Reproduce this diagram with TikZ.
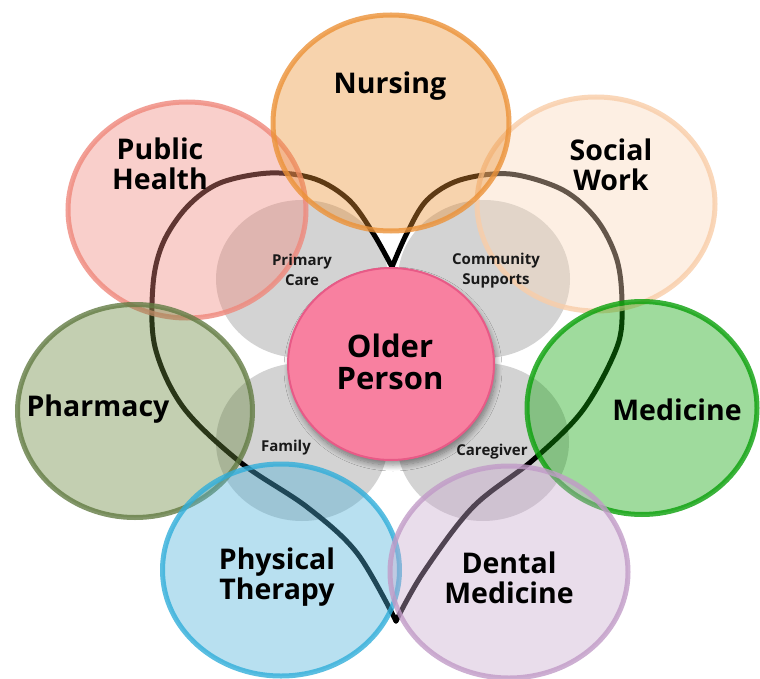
\documentclass[tikz,border=0pt]{standalone}
\usepackage{fontspec}
\setmainfont{Open Sans}
\usetikzlibrary{shapes.geometric,shadows.blur}
\definecolor{nurF}{RGB}{235,145,52}
\definecolor{nurB}{RGB}{236,146,56}
\definecolor{phF}{RGB}{242,137,125}
\definecolor{phB}{RGB}{239,136,124}
\definecolor{swF}{RGB}{250,217,187}
\definecolor{swB}{RGB}{249,205,168}
\definecolor{pmF}{RGB}{105,135,62}
\definecolor{pmB}{RGB}{99,124,68}
\definecolor{mdF}{RGB}{17,165,12}
\definecolor{mdB}{RGB}{11,161,11}
\definecolor{ptF}{RGB}{78,178,218}
\definecolor{ptB}{RGB}{49,174,218}
\definecolor{dmF}{RGB}{202,170,207}
\definecolor{dmB}{RGB}{193,155,199}
\definecolor{opF}{RGB}{248,128,160}
\definecolor{opB}{RGB}{232,90,135}
\definecolor{grayF}{RGB}{211,211,211}
\begin{document}
\begin{tikzpicture}[x=1pt,y=-1pt,
  petal/.style={ellipse,line width=5pt,fill opacity=0.4,draw opacity=0.8,inner sep=0pt},
  helper/.style={ellipse,fill=grayF,draw=none,minimum width=172pt,minimum height=158pt,inner sep=0pt},
  big/.style={font=\fontsize{28.5}{30}\selectfont\bfseries,align=center,text=black},
  center label/.style={font=\fontsize{31}{32}\selectfont\bfseries,align=center,text=black},
  small/.style={font=\fontsize{15}{20}\selectfont\bfseries,align=center,text=black!90},
  heartline/.style={line width=5pt,black,line cap=round,line join=round}]
\useasboundingbox (0,0) rectangle (760,679);
\fill[white] (0,0) rectangle (760,679);
% gray helper circles
\node[helper] (pc) at (302,279) {};
\node[helper] (cs) at (484,279) {};
\node[helper] (fa) at (302,442) {};
\node[helper] (cg) at (483,442) {};
% heart
\coordinate (notch) at (392,267);
\coordinate (tip) at (396,621);
\draw[heartline] plot[smooth,tension=0.55] coordinates {(392,267) (373,233) (349,200) (315,179) (270,173) (220,183) (187,207) (163,243) (153,285) (155,347) (183,407) (240,462) (307,507) (357,553) (396,621)};
\draw[heartline] plot[smooth,tension=0.55] coordinates {(392,267) (407,233) (427,200) (460,180) (510,174) (563,190) (597,220) (617,260) (622,305) (617,347) (583,410) (533,460) (473,507) (423,573) (396,621)};
% petals
\node[petal,fill=phF,draw=phB,minimum width=238pt,minimum height=216pt] (ph) at (187,210) {};
\node[petal,fill=swF,draw=swB,minimum width=238pt,minimum height=214pt] (sw) at (596,204) {};
\node[petal,fill=nurF,draw=nurB,minimum width=236pt,minimum height=216pt] (nu) at (391,123) {};
\node[petal,fill=pmF,draw=pmB,minimum width=235pt,minimum height=213pt] (pm) at (135,411) {};
\node[petal,fill=mdF,draw=mdB,minimum width=230pt,minimum height=213pt] (md) at (642,408) {};
\node[petal,fill=ptF,draw=ptB,minimum width=237pt,minimum height=212pt] (pt) at (281,570) {};
\node[petal,fill=dmF,draw=dmB,minimum width=238pt,minimum height=212pt] (dm) at (509,572) {};
% older person
\node[ellipse,fill=opF,draw=opB,line width=2pt,minimum width=206pt,minimum height=192pt,inner sep=0pt,
  blur shadow={shadow xshift=2pt,shadow yshift=-5pt,shadow opacity=45,shadow blur steps=10,shadow blur radius=6pt}] (op) at (391,364) {};
% labels
\node[big] (tnu) at (390,86) {Nursing};
\node[big] (tph) at (160,164) {Public\\Health};
\node[big] (tsw) at (611,165) {Social\\Work};
\node[big] (tpm) at (98,409) {Pharmacy};
\node[big] (tmd) at (677,410) {Medicine};
\node[big] (tpt) at (277,577) {Physical\\Therapy};
\node[big] (tdm) at (509,578) {Dental\\Medicine};
\node[center label] (top) at (390,362) {Older\\Person};
\node[small] (tpc) at (302,270) {Primary\\Care};
\node[small] (tcs) at (496,271) {Community\\Supports};
\node[small] (tfa) at (286,448) {Family};
\node[small] (tcg) at (492,452) {Caregiver};
\end{tikzpicture}
\end{document}
